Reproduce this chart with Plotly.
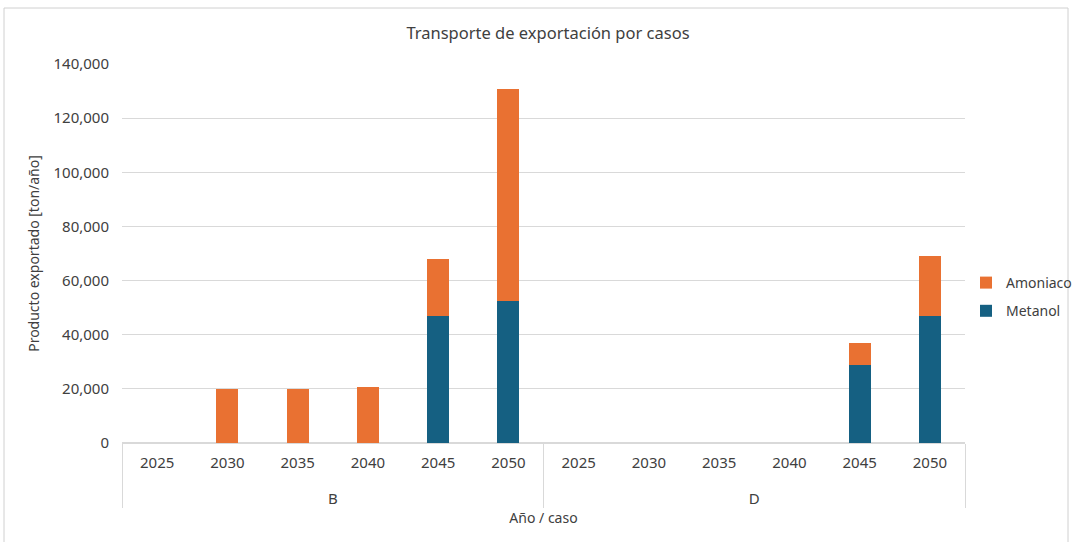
import plotly.graph_objects as go

# Export transport by case (tonnes per year)
casos = ["B"] * 6 + ["D"] * 6
anios = ["2025", "2030", "2035", "2040", "2045", "2050"] * 2
metanol = [0, 0, 0, 0, 47000, 52600, 0, 0, 0, 0, 28800, 46900]
amoniaco = [0, 20000, 20100, 20700, 21000, 78200, 0, 0, 0, 0, 8000, 22200]

y_ticks = [0, 20000, 40000, 60000, 80000, 100000, 120000, 140000]

FONT = "Noto Sans"
TEXT = "#404040"
GRID = "#d9d9d9"

W, H = 1072, 542
L, R, T, B = 122, 0, 64, 99
pw, ph = W - L - R, H - T - B
PLOT_RIGHT = 965  # right edge of the bars area in pixels


def px_x(px):
    return (px - L) / pw


def px_y(py):
    return (H - B - py) / ph


# group labels sit one line below the year labels
grupos = ["<br>" + c for c in casos]

fig = go.Figure()
fig.add_trace(go.Bar(
    name="Metanol", x=[grupos, anios], y=metanol,
    legendgroup="metanol", legendrank=2,
    marker=dict(color="#156082", line=dict(width=0)),
))
fig.add_trace(go.Bar(
    name="Amoniaco", x=[grupos, anios], y=amoniaco,
    legendgroup="amoniaco", legendrank=1,
    marker=dict(color="#E97132", line=dict(width=0)),
))

fig.update_layout(
    width=W, height=H,
    barmode="stack",
    bargap=0.69,
    paper_bgcolor="white",
    plot_bgcolor="white",
    margin=dict(l=L, r=R, t=T, b=B, autoexpand=False),
    font=dict(family=FONT, size=14, color=TEXT),
    title=dict(text="Transporte de exportación por casos", x=(406 + 690) / 2 / W, xanchor="center",
               y=1 - 33 / H, yanchor="middle", font=dict(size=16.5, color=TEXT)),
    legend=dict(x=px_x(966), y=px_y(297), xanchor="left", yanchor="middle",
                traceorder="grouped", font=dict(size=14, color=TEXT),
                itemwidth=30, tracegroupgap=7, bgcolor="rgba(0,0,0,0)"),
    xaxis=dict(
        type="multicategory",
        domain=[0, px_x(PLOT_RIGHT)],
        showgrid=False,
        showline=True, linecolor=GRID, linewidth=1,
        showdividers=True, dividercolor=GRID, dividerwidth=1,
        ticks="", tickfont=dict(size=15, color=TEXT),
        ticklabelstandoff=6,
        title=dict(text="Año / caso", font=dict(size=14, color=TEXT), standoff=6),
    ),
    yaxis=dict(
        range=[0, 140000],
        tickvals=y_ticks,
        tickformat=",d",
        showgrid=True, gridcolor=GRID, gridwidth=1,
        zeroline=True, zerolinecolor=GRID,
        showline=False, ticks="",
        ticklabelstandoff=12,
        tickfont=dict(size=15, color=TEXT),
        title=dict(text="Producto exportado [ton/año]", font=dict(size=14, color=TEXT), standoff=10),
    ),
    shapes=[
        dict(type="rect", xref="paper", yref="paper",
             x0=px_x(4), x1=px_x(1068), y0=px_y(548), y1=px_y(8),
             line=dict(color="#d0d0d0", width=1), fillcolor="rgba(0,0,0,0)", layer="below"),
    ],
)

fig.write_html("out.html")
